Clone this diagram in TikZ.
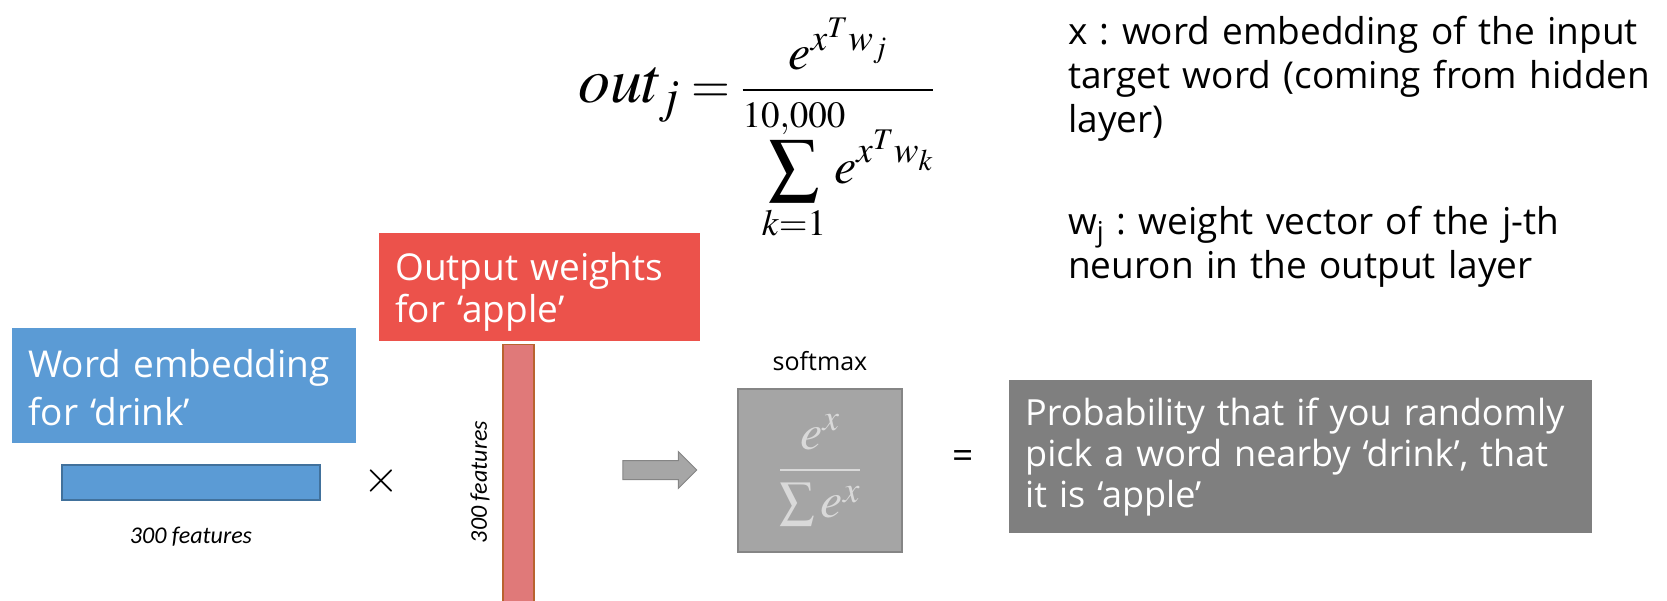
\documentclass[tikz,border=0pt]{standalone}
\usepackage{mathptmx}
\usepackage[no-math]{fontspec}
\setmainfont{Open Sans}
\newfontfamily\calibrifont{Carlito}
\usepackage{xcolor}
\usepackage{tikz}
\usetikzlibrary{shapes.arrows, positioning}
\frenchspacing

\definecolor{wordblue}{HTML}{5B9BD5}
\definecolor{wordedge}{HTML}{41719C}
\definecolor{outred}{HTML}{EC524B}
\definecolor{barred}{HTML}{E07979}
\definecolor{baredge}{HTML}{B9632F}
\definecolor{arrowgray}{HTML}{A6A6A6}
\definecolor{edgegray}{HTML}{858585}
\definecolor{smgray}{HTML}{A5A5A5}
\definecolor{probgray}{HTML}{7F7F7F}

\begin{document}
\begin{tikzpicture}[
    x=1pt, y=1pt,
    node distance=20pt and 20pt,
    lbl/.style={fill=#1, text=white, anchor=north west, align=left, inner ysep=0pt, inner xsep=16pt, font=\fontsize{37}{42}\selectfont},
    vecbar/.style={fill=#1, line width=1.5pt, inner sep=0pt},
    feat/.style={font=\calibrifont\itshape\fontsize{24}{28}\selectfont, inner sep=0pt},
    defn/.style={align=left, inner sep=0pt, text width=600pt, font=\fontsize{37}{44}\selectfont}
]
    \useasboundingbox (0,0) rectangle (1667,600);

    % Formula
    \node[anchor=base west, inner sep=0pt] (outeq) at (578,497)
        {{\fontsize{64}{68}\selectfont$out_j$}{\fontsize{50}{54}\selectfont$\displaystyle {}= \frac{e^{x^T w_j}}{\displaystyle\sum_{k=1}^{10{,}000}\!\!\! e^{x^T w_k}}$}};

    % Definitions
    \node[defn, anchor=base west] (xdef) at (1068,555) {x : word embedding of the input\\target word (coming from hidden\\layer)};
    \node[defn, below=64pt of xdef] (wdef) {w\textsubscript{j} : weight vector of the j-th\\neuron in the output layer};

    % Input word
    \node[lbl=wordblue, text width=312pt, text height=49pt, text depth=66pt, font=\fontsize{37}{48}\selectfont] (wordlbl) at (12,272) {Word embedding\\for ‘drink’};
    \node[vecbar=wordblue, draw=wordedge, minimum width=258pt, minimum height=35pt] (wordvec) at (191,117.5) {};
    \node[feat, below=26pt of wordvec] (wordfeat) {300 features};

    \node[inner sep=0pt, font=\fontsize{46}{46}\selectfont] (times) at (381,119) {$\times$};

    % Output weights
    \node[lbl=outred, text width=289pt, text height=47pt, text depth=61pt] (outlbl) at (379,367) {Output weights\\for ‘apple’};
    \node[vecbar=barred, draw=baredge, anchor=north, minimum width=31pt, minimum height=280pt] (outvec) at (518.5,256) {};
    \node[feat, rotate=90] (outfeat) at (480,118) {300 features};

    % Softmax
    \node[single arrow, fill=arrowgray, draw=edgegray, line width=1pt, inner xsep=0pt, inner ysep=9pt,
          minimum height=74pt, single arrow head extend=9pt] (step1) at (655,130) {};
    \node[fill=smgray, draw=edgegray, line width=1.5pt, minimum width=164pt, minimum height=163pt, inner sep=0pt,
          text=white!85!black, font=\fontsize{50}{54}\selectfont] (smbox) at (820,129.5) {$\displaystyle\frac{e^x}{\sum e^x}$};
    \node[above=17pt of smbox, inner sep=0pt, font=\fontsize{25}{28}\selectfont] (smlbl) {softmax};

    \node[inner sep=0pt, font=\fontsize{37}{40}\selectfont] (eq) at (963,140) {=};

    \node[lbl=probgray, text width=551pt, text height=45pt, text depth=108pt, font=\fontsize{36}{41}\selectfont] (probbox) at (1009,220)
        {Probability that if you randomly\\pick a word nearby ‘drink’, that\\it is ‘apple’};
\end{tikzpicture}
\end{document}
